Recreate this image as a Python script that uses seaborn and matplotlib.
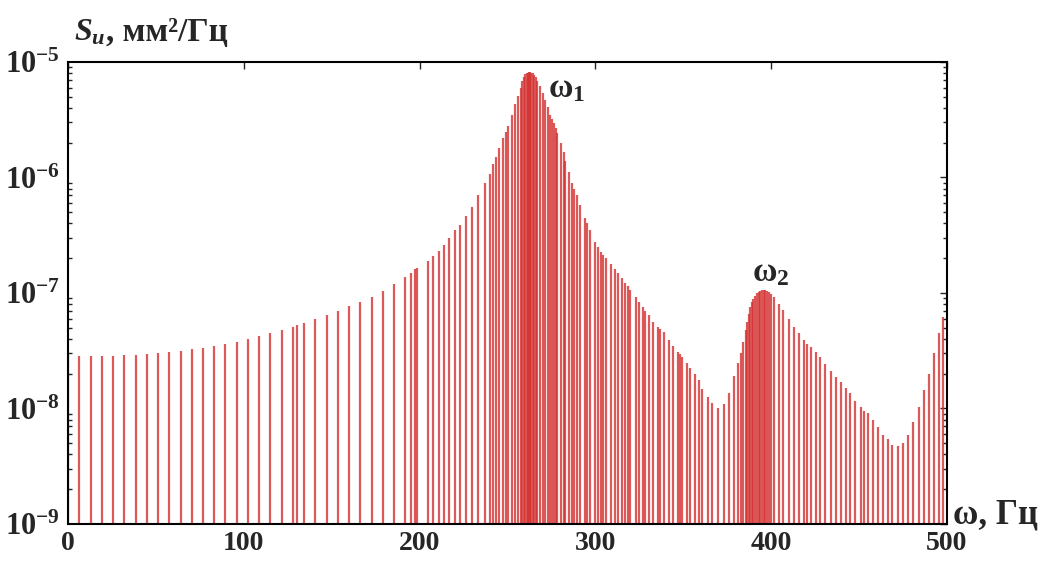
import numpy as np
import pandas as pd
import seaborn as sns
import matplotlib.pyplot as plt
import matplotlib.ticker as mticker

sns.set_style("white")
plt.rcParams["font.family"] = ["Liberation Serif", "DejaVu Serif"]
plt.rcParams["mathtext.fontset"] = "custom"
plt.rcParams["mathtext.rm"] = "Liberation Serif:bold"
plt.rcParams["mathtext.bf"] = "Liberation Serif:bold"
plt.rcParams["mathtext.it"] = "Liberation Serif:bold:italic"

# spectrum lines (frequency in Hz, PSD in mm^2/Hz)
freq_low = [0, 6.4, 12.8, 19.2, 25.6, 32.0, 38.4, 44.8, 51.2, 57.6, 64.0, 70.4,
            76.8, 83.2, 89.6, 96.0, 102.4, 108.8, 115.2, 121.6, 128.0, 130.5,
            134.4, 140.8, 147.2, 153.6, 160.0, 166.4, 172.8, 179.2, 185.6, 192.0,
            195.2, 197.6, 198.6]
psd_low = [2.9e-8, 2.85e-8, 2.85e-8, 2.85e-8, 2.85e-8, 2.9e-8, 2.9e-8, 2.95e-8,
           3.0e-8, 3.1e-8, 3.15e-8, 3.25e-8, 3.35e-8, 3.5e-8, 3.65e-8, 3.8e-8,
           4.0e-8, 4.25e-8, 4.5e-8, 4.8e-8, 5.1e-8, 5.25e-8, 5.5e-8, 5.9e-8,
           6.4e-8, 7.0e-8, 7.7e-8, 8.3e-8, 9.3e-8, 1.05e-7, 1.2e-7, 1.38e-7,
           1.5e-7, 1.62e-7, 1.65e-7]

freq_peak1 = [204.8, 207.5, 211.3, 214.0, 217.0, 220.4, 223.2, 226.5, 230.0,
              233.5, 237.5, 240.0, 242.0, 243.7, 245.5, 247.7, 249.0,
              250.5, 252.5, 254.5, 256.0, 257.5, 258.5, 259.5, 260.3, 261.0,
              261.7, 262.4, 263.0, 263.7, 264.4, 265.2, 266.0, 267.0, 268.5,
              270.0, 271.6, 273.0, 274.5, 275.5, 276.5, 277.5, 278.5, 280.5,
              282.0, 283.0, 285.0, 287.0, 288.0, 289.5, 291.6, 294.0, 295.5,
              297.0, 300.0, 301.5]
psd_peak1 = [1.9e-7, 2.1e-7, 2.3e-7, 2.6e-7, 3.0e-7, 3.5e-7, 3.9e-7, 4.6e-7,
             5.6e-7, 7.0e-7, 8.9e-7, 1.08e-6, 1.3e-6, 1.5e-6, 1.8e-6, 2.2e-6,
             2.5e-6, 2.8e-6, 3.5e-6, 4.3e-6, 5.1e-6, 6.0e-6, 6.8e-6, 7.4e-6,
             7.8e-6, 8.0e-6, 8.1e-6, 8.2e-6, 8.2e-6, 8.1e-6, 8.0e-6, 7.7e-6,
             7.4e-6, 6.9e-6, 6.2e-6, 5.4e-6, 4.7e-6, 4.1e-6, 3.5e-6, 3.2e-6,
             2.95e-6, 2.7e-6, 2.45e-6, 2.0e-6, 1.65e-6, 1.4e-6, 1.12e-6, 8.9e-7,
             8.0e-7, 7.1e-7, 5.8e-7, 4.5e-7, 4.0e-7, 3.5e-7, 2.75e-7, 2.5e-7]

freq_mid = [303.0, 304.5, 306.0, 309.0, 311.0, 313.0, 315.0, 317.0, 318.5,
            320.0, 323.0, 325.0, 327.0, 328.5, 330.5, 333.0, 335.5, 337.0,
            339.0, 342.0, 344.5, 347.0, 348.2, 349.6, 352.0, 354.0, 356.5,
            358.8, 361.0, 363.9, 366.7, 369.6, 373.0, 375.9, 378.7, 381.0,
            382.7, 384.0, 385.5]
psd_mid = [2.26e-7, 2.13e-7, 2.0e-7, 1.78e-7, 1.62e-7, 1.48e-7, 1.35e-7,
           1.23e-7, 1.15e-7, 1.07e-7, 9.3e-8, 8.3e-8, 7.6e-8, 7.0e-8, 6.5e-8,
           5.6e-8, 5.1e-8, 4.9e-8, 4.6e-8, 3.9e-8, 3.5e-8, 3.1e-8, 2.95e-8,
           2.8e-8, 2.5e-8, 2.24e-8, 2.0e-8, 1.78e-8, 1.48e-8, 1.26e-8, 1.12e-8,
           1.0e-8, 1.1e-8, 1.35e-8, 1.9e-8, 2.5e-8, 3.0e-8, 3.8e-8, 4.8e-8]

freq_peak2 = [386.5, 387.5, 388.3, 389.2, 390.0, 391.0, 392.0, 393.0, 394.0,
              395.0, 395.8, 396.7, 397.6, 398.6, 400.0, 401.5]
psd_peak2 = [5.6e-8, 6.6e-8, 7.6e-8, 8.3e-8, 8.9e-8, 9.5e-8, 1.0e-7, 1.02e-7,
             1.05e-7, 1.07e-7, 1.07e-7, 1.07e-7, 1.05e-7, 1.02e-7, 9.8e-8, 9.3e-8]

freq_high = [404.3, 407.0, 410.0, 413.0, 415.7, 418.6, 420.5, 422.6, 425.4,
             428.0, 431.0, 434.0, 436.8, 439.6, 442.5, 445.0, 448.0, 451.0,
             453.0, 455.0, 458.0, 460.7, 463.5, 466.4, 469.0, 472.0, 475.0,
             478.0, 481.0, 484.0, 487.0, 490.0, 492.6, 495.4, 498.0]
psd_high = [8.1e-8, 7.1e-8, 6.0e-8, 5.1e-8, 4.5e-8, 3.9e-8, 3.6e-8, 3.4e-8,
            3.1e-8, 2.8e-8, 2.45e-8, 2.1e-8, 1.86e-8, 1.7e-8, 1.5e-8, 1.35e-8,
            1.17e-8, 1.02e-8, 9.5e-9, 9.1e-9, 7.9e-9, 6.9e-9, 5.9e-9, 5.4e-9,
            4.8e-9, 4.7e-9, 5.0e-9, 5.9e-9, 7.6e-9, 1.02e-8, 1.45e-8, 2.0e-8,
            3.0e-8, 4.5e-8, 6.2e-8]

y_ticks = [1e-9, 1e-8, 1e-7, 1e-6, 1e-5]
y_labels = [r"$\mathbf{10^{-9}}$", r"$\mathbf{10^{-8}}$", r"$\mathbf{10^{-7}}$",
            r"$\mathbf{10^{-6}}$", r"$\mathbf{10^{-5}}$"]
x_ticks = [0, 100, 200, 300, 400, 500]

df = pd.DataFrame({
    "f": freq_low + freq_peak1 + freq_mid + freq_peak2 + freq_high,
    "S": psd_low + psd_peak1 + psd_mid + psd_peak2 + psd_high,
})

fig = plt.figure(figsize=(10.53, 5.61), dpi=100)
ax = fig.add_axes([0.0646, 0.066, 0.8345, 0.8235])

ax.vlines(df["f"], 1e-9, df["S"], color="#d43030", lw=1.6, alpha=0.8)

ax.set_yscale("log")
ax.set_xlim(0, 500)
ax.set_ylim(1e-9, 1e-5)
ax.set_xticks(x_ticks)
ax.set_xticklabels([str(t) for t in x_ticks], fontsize=20, fontweight="bold")
ax.set_yticks(y_ticks)
ax.set_yticklabels(y_labels, fontsize=22)
ax.yaxis.set_minor_locator(mticker.LogLocator(base=10, subs=np.arange(2, 10)))
ax.yaxis.set_minor_formatter(mticker.NullFormatter())
ax.tick_params(axis="both", which="major", direction="in", length=5, width=1,
               top=True, right=True)
ax.tick_params(axis="x", which="major", pad=5)
ax.tick_params(axis="y", which="major", pad=6)
ax.tick_params(axis="y", which="minor", direction="in", length=3, width=1,
               left=True, right=True)
for sp in ax.spines.values():
    sp.set_color("black")
    sp.set_linewidth(1.5)

ax.set_xlabel("")
ax.set_ylabel("")

fig.text(0.070, 0.927, r"$S_u$", fontsize=23, ha="left", va="baseline")
fig.text(0.101, 0.927, ", мм²/Гц", fontsize=24, fontweight="bold", ha="left",
         va="baseline")
fig.text(0.905, 0.067, "ω, Гц", fontsize=25, fontweight="bold", ha="left",
         va="baseline")
ax.text(273, 5.8e-6, r"$\mathbf{\omega_1}$", fontsize=24, ha="left", va="center")
ax.text(389, 1.5e-7, r"$\mathbf{\omega_2}$", fontsize=24, ha="left", va="center")

fig.savefig("out.png", dpi=100)
plt.close()
